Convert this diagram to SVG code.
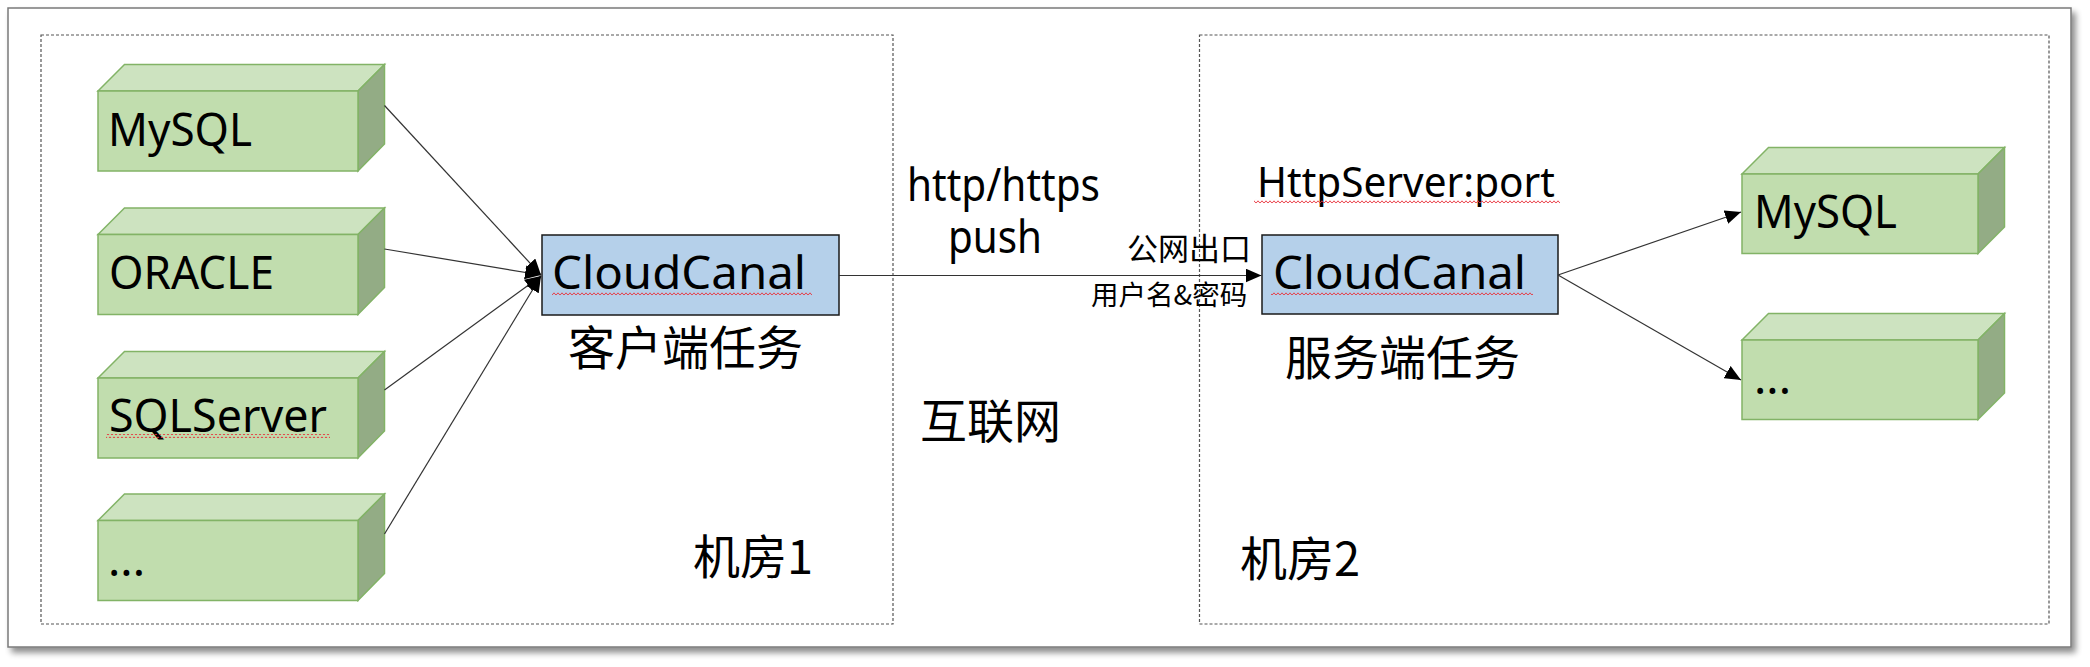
<svg xmlns="http://www.w3.org/2000/svg" width="2090" height="667" viewBox="0 0 2090 667">
<style>
.front{fill:#C1DDAE;stroke:#82B366;stroke-width:1.5}
.top{fill:#CDE3C0;stroke:#82B366;stroke-width:1.5}
.side{fill:#93AC85;stroke:#82B366;stroke-width:1.5}
.cc{fill:#B5D0EA;stroke:#1a1a1a;stroke-width:1.5}
.room{fill:none;stroke:#555;stroke-width:1.2;stroke-dasharray:3 2}
.lat{font-family:"Noto Sans","Noto Sans CJK SC",sans-serif;fill:#000}
.cjk{font-family:"Noto Sans CJK SC","Noto Sans",sans-serif;fill:#000}
.conn{stroke:#333;stroke-width:1.2;fill:none}
</style>
<defs>
<marker id="arr" viewBox="0 0 16 14" refX="16" refY="7" markerWidth="16" markerHeight="14" markerUnits="userSpaceOnUse" orient="auto">
<path d="M0,0 L16,7 L0,14 Z" fill="#000"/>
</marker>
<pattern id="wave" x="0" y="0" width="4" height="4" patternUnits="userSpaceOnUse">
<path d="M0,3.2 L2,0.8 L4,3.2" fill="none" stroke="#E8303A" stroke-width="0.9"/>
</pattern>
<filter id="shadow" x="-5%" y="-5%" width="110%" height="115%">
<feGaussianBlur in="SourceAlpha" stdDeviation="3"/>
<feOffset dx="4" dy="5" result="b"/>
<feComponentTransfer><feFuncA type="linear" slope="0.45"/></feComponentTransfer>
<feMerge><feMergeNode/><feMergeNode in="SourceGraphic"/></feMerge>
</filter>
</defs>
<rect width="2090" height="667" fill="#fff"/>
<rect id="frame" x="8" y="8" width="2063" height="639" fill="#fff" stroke="#7a7a7a" stroke-width="1.5" filter="url(#shadow)"/>

<g id="room1">
<rect class="room" x="41" y="35" width="852" height="589"/>
<text class="cjk" x="693" y="574" font-size="47">机房1</text>
</g>
<g id="room2">
<rect class="room" x="1199.5" y="35" width="849.5" height="589"/>
<text class="cjk" x="1240" y="576" font-size="47">机房2</text>
</g>

<g id="src-mysql">
<polygon class="top" points="98,91 124.5,64.5 384.5,64.5 358,91"/>
<polygon class="side" points="358,91 384.5,64.5 384.5,144 358,171"/>
<rect class="front" x="98" y="91" width="260" height="80"/>
<text class="lat" x="108" y="146" font-size="46" textLength="144" lengthAdjust="spacingAndGlyphs">MySQL</text>
</g>
<g id="src-oracle">
<polygon class="top" points="98,234.5 124.5,208 384.5,208 358,234.5"/>
<polygon class="side" points="358,234.5 384.5,208 384.5,287.5 358,314.5"/>
<rect class="front" x="98" y="234.5" width="260" height="80"/>
<text class="lat" x="109" y="289" font-size="46" textLength="165" lengthAdjust="spacingAndGlyphs">ORACLE</text>
</g>
<g id="src-sqlserver">
<polygon class="top" points="98,378 124.5,351.5 384.5,351.5 358,378"/>
<polygon class="side" points="358,378 384.5,351.5 384.5,431 358,458"/>
<rect class="front" x="98" y="378" width="260" height="80"/>
<text class="lat" x="109" y="432" font-size="46" textLength="218" lengthAdjust="spacingAndGlyphs">SQLServer</text>
<rect x="106" y="434" width="224" height="4" fill="url(#wave)"/>
</g>
<g id="src-more">
<polygon class="top" points="98,520.5 124.5,494 384.5,494 358,520.5"/>
<polygon class="side" points="358,520.5 384.5,494 384.5,573.5 358,600.5"/>
<rect class="front" x="98" y="520.5" width="260" height="80"/>
<text class="lat" x="108" y="576" font-size="46">...</text>
</g>

<g id="client">
<rect class="cc" x="542" y="235" width="297" height="80"/>
<text class="lat" x="552" y="289" font-size="46" textLength="254" lengthAdjust="spacingAndGlyphs">CloudCanal</text>
<rect x="552" y="291.5" width="260" height="4" fill="url(#wave)"/>
<text class="cjk" x="568" y="365" font-size="47">客户端任务</text>
</g>

<g id="internet">
<text class="lat" x="907" y="201" font-size="45" textLength="193" lengthAdjust="spacingAndGlyphs">http/https</text>
<text class="lat" x="948" y="253" font-size="45" textLength="94" lengthAdjust="spacingAndGlyphs">push</text>
<text class="cjk" x="920" y="438" font-size="47">互联网</text>
<text class="cjk" x="1127" y="260" font-size="31">公网出口</text>
<text class="cjk" x="1091" y="305" font-size="27.5">用户名&amp;密码</text>
</g>

<g id="server">
<text class="lat" x="1257" y="197" font-size="42" textLength="298" lengthAdjust="spacingAndGlyphs">HttpServer:port</text>
<rect x="1254" y="199.5" width="306" height="4" fill="url(#wave)"/>
<rect class="cc" x="1262" y="235" width="296" height="79"/>
<text class="lat" x="1273" y="288.5" font-size="46" textLength="253" lengthAdjust="spacingAndGlyphs">CloudCanal</text>
<rect x="1271" y="291" width="262" height="4" fill="url(#wave)"/>
<text class="cjk" x="1285" y="375" font-size="47">服务端任务</text>
</g>

<g id="dst-mysql">
<polygon class="top" points="1742,174 1768.5,147.5 2004.5,147.5 1978,174"/>
<polygon class="side" points="1978,174 2004.5,147.5 2004.5,227 1978,253.5"/>
<rect class="front" x="1742" y="174" width="236" height="79.5"/>
<text class="lat" x="1754" y="228" font-size="46" textLength="143" lengthAdjust="spacingAndGlyphs">MySQL</text>
</g>
<g id="dst-more">
<polygon class="top" points="1742,340 1768.5,313.5 2004.5,313.5 1978,340"/>
<polygon class="side" points="1978,340 2004.5,313.5 2004.5,393 1978,419.5"/>
<rect class="front" x="1742" y="340" width="236" height="79.5"/>
<text class="lat" x="1754" y="394" font-size="46">...</text>
</g>

<g id="connectors">
<line class="conn" x1="384.5" y1="105.5" x2="541" y2="275" marker-end="url(#arr)"/>
<line class="conn" x1="384.5" y1="249" x2="541" y2="275" marker-end="url(#arr)"/>
<line class="conn" x1="384.5" y1="390" x2="541" y2="276" marker-end="url(#arr)"/>
<line class="conn" x1="384.5" y1="534" x2="541" y2="276" marker-end="url(#arr)"/>
<line class="conn" x1="839" y1="275.5" x2="1261.5" y2="275.5" marker-end="url(#arr)"/>
<line class="conn" x1="1558" y1="275" x2="1741" y2="212" marker-end="url(#arr)"/>
<line class="conn" x1="1558" y1="275" x2="1741" y2="380" marker-end="url(#arr)"/>
</g>
</svg>
